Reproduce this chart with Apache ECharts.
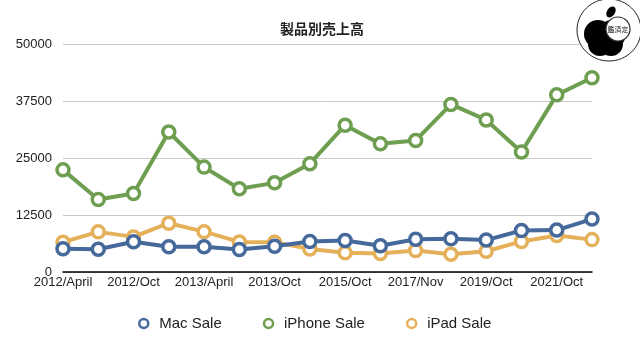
<!DOCTYPE html>
<html>
<head>
<meta charset="utf-8">
<script src="https://cdn.jsdelivr.net/npm/echarts@6/dist/echarts.min.js"></script>
<style>html,body{margin:0;padding:0;background:#fff}#c{width:640px;height:356px}</style>
</head>
<body>
<div id="c"></div>
<script>
var categories = ['2012/April','2012/July','2012/Oct','2013/Jan','2013/April','2013/July','2013/Oct','2014/Oct','2015/Oct','2016/Oct','2017/Nov','2018/Oct','2019/Oct','2020/Oct','2021/Oct','2022/Oct'];
var macSale = [5100, 5000, 6650, 5550, 5550, 4950, 5650, 6700, 6900, 5750, 7200, 7300, 7000, 9100, 9200, 11600];
var iphoneSale = [22400, 15900, 17200, 30700, 23000, 18250, 19550, 23750, 32200, 28100, 28850, 36750, 33350, 26300, 38850, 42600];
var ipadSale = [6550, 8800, 7700, 10700, 8850, 6600, 6550, 5050, 4200, 4050, 4700, 3900, 4550, 6700, 8000, 7100];
var yTicks = [0, 12500, 25000, 37500, 50000];

var FONT = '"Liberation Sans", Arial, sans-serif';
var chart = echarts.init(document.getElementById('c'), null, {renderer: 'canvas'});
function mk(name, data, color, z) {
  return {
    name: name, type: 'line', data: data, z: z,
    symbol: 'circle', symbolSize: 12,
    lineStyle: {color: color, width: 4},
    itemStyle: {color: '#fff', borderColor: color, borderWidth: 3.5},
    emphasis: {disabled: true},
    animation: false
  };
}
chart.setOption({
  animation: false,
  title: {
    text: '製品別売上高', left: 317, top: 17, textAlign: 'center',
    textStyle: {fontFamily: '"Noto Sans CJK JP", sans-serif', fontSize: 14, fontWeight: 'bold', color: '#222'}
  },
  legend: {
    bottom: 20, left: 133, itemGap: 41, itemWidth: 9, itemHeight: 9,
    icon: 'circle',
    textStyle: {fontFamily: FONT, fontSize: 15, color: '#222', padding: [0, 0, 0, 6]},
    data: [
      {name: 'Mac Sale', itemStyle: {color: '#fff', borderColor: '#46699b', borderWidth: 2.5}},
      {name: 'iPhone Sale', itemStyle: {color: '#fff', borderColor: '#6e9e50', borderWidth: 2.5}},
      {name: 'iPad Sale', itemStyle: {color: '#fff', borderColor: '#e5b05a', borderWidth: 2.5}}
    ]
  },
  grid: {left: 63, right: 48, top: 44, bottom: 84, containLabel: false},
  xAxis: {
    type: 'category', data: categories, boundaryGap: false,
    axisLine: {lineStyle: {color: '#000', width: 1.5}},
    axisTick: {show: false},
    axisLabel: {interval: 1, fontFamily: FONT, fontSize: 13, color: '#222', margin: 4}
  },
  yAxis: {
    type: 'value', min: yTicks[0], max: yTicks[yTicks.length - 1], interval: 12500,
    axisLine: {show: false}, axisTick: {show: false},
    axisLabel: {fontFamily: FONT, fontSize: 13, color: '#222', margin: 11, formatter: function (v) { return String(v); }},
    splitLine: {lineStyle: {color: '#c8c8c8', width: 1}}
  },
  series: [
    mk('Mac Sale', macSale, '#46699b', 4),
    mk('iPhone Sale', iphoneSale, '#6e9e50', 3),
    mk('iPad Sale', ipadSale, '#e5b05a', 2)
  ],
  graphic: [
    {type: 'ellipse', shape: {cx: 609, cy: 30, rx: 32, ry: 31}, style: {fill: '#fff', stroke: '#222', lineWidth: 1}, z: 100},
    {type: 'circle', shape: {cx: 598, cy: 34, r: 14}, style: {fill: '#000'}, z: 101},
    {type: 'circle', shape: {cx: 612, cy: 34, r: 14}, style: {fill: '#000'}, z: 101},
    {type: 'circle', shape: {cx: 600, cy: 44, r: 12}, style: {fill: '#000'}, z: 101},
    {type: 'circle', shape: {cx: 611, cy: 44, r: 12}, style: {fill: '#000'}, z: 101},
    {type: 'ellipse', shape: {cx: 611, cy: 12, rx: 4, ry: 6}, rotation: -0.6, originX: 611, originY: 12, style: {fill: '#000'}, z: 101},
    {type: 'circle', shape: {cx: 618, cy: 29, r: 12}, style: {fill: '#fff', stroke: '#333', lineWidth: 1.2}, z: 102},
    {type: 'text', x: 618, y: 29, style: {text: '鑑済定', fontSize: 7, fontFamily: '"Noto Sans CJK JP", sans-serif', fill: '#222', align: 'center', verticalAlign: 'middle'}, z: 103}
  ]
});
</script>
</body>
</html>
